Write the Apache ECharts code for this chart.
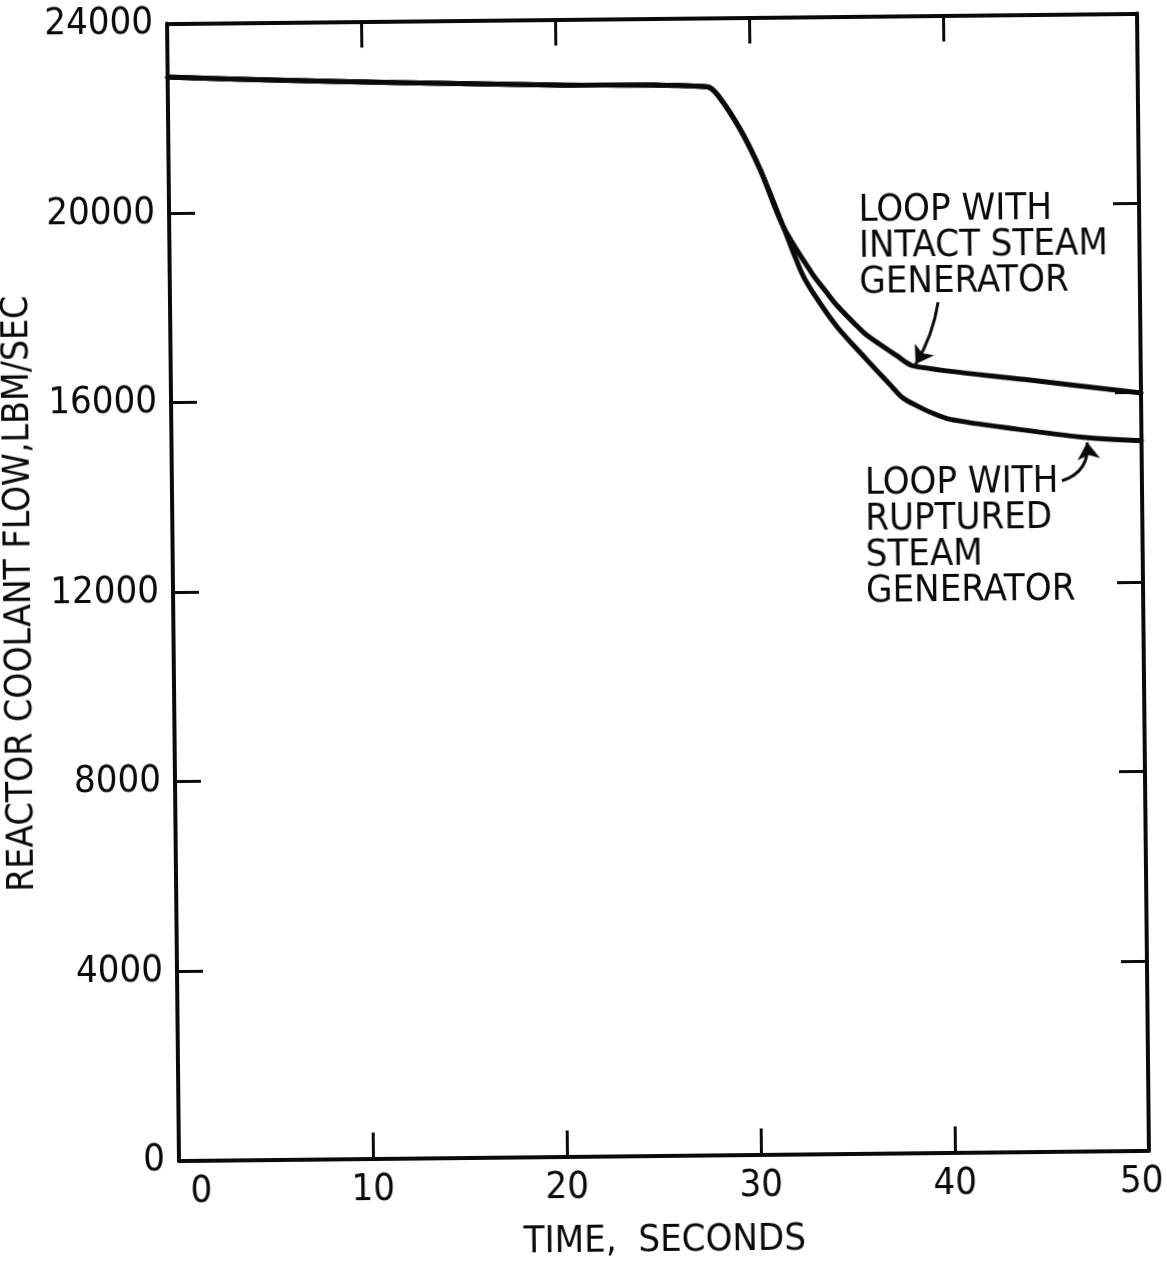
<!DOCTYPE html>
<html>
<head>
<meta charset="utf-8">
<script src="https://cdn.jsdelivr.net/npm/echarts@6/dist/echarts.min.js"></script>
<style>
  html, body { margin: 0; padding: 0; background: #fff; overflow: hidden; }
  /* the plotted sheet sits slightly askew on the page */
  #chart { width: 1167px; height: 1266px; transform: rotate(-0.6deg); transform-origin: 658px 587px; }
</style>
</head>
<body>
<div id="chart"></div>
<script>
// Reactor coolant flow (lbm/sec) versus time (s)
// Common trace before the two loops separate
const sharedTime = [0, 5, 12, 20, 27.8, 28.4, 29.5, 30.5, 31.65];
const sharedFlow = [22870, 22790, 22700, 22620, 22550, 22340, 21630, 20780, 19580];

// Loop with intact steam generator
const intactTime = [33.1, 33.85, 34.36, 35.38, 35.89, 37.43, 38.28, 44, 50];
const intactFlow = [18590, 18180, 17910, 17470, 17270, 16830, 16610, 16300, 15990];

// Loop with ruptured steam generator
const rupturedTime = [32.58, 33.16, 34.35, 35.88, 36.71, 37.2, 37.74, 38.43, 39.12, 40.14, 43.57, 47.0, 50];
const rupturedFlow = [18595, 18171, 17463, 16753, 16380, 16160, 15930, 15770, 15630, 15475, 15253, 15068, 14980];

// Axis ticks
const xTickValues = [0, 10, 20, 30, 40, 50];
const yTickValues = [0, 4000, 8000, 12000, 16000, 20000, 24000];
const yTickLabels = ['0', '4000', '8000', '12000', '16000', '20000', '24000'];

// Callout texts
const intactText = ['LOOP WITH', 'INTACT STEAM', 'GENERATOR'];
const rupturedText = ['LOOP WITH', 'RUPTURED', 'STEAM', 'GENERATOR'];

// Callout placement, in data units [time, flow]
const callouts = {
  intact:   { anchor: [35.54, 20280], arrow: [[39.59, 17948], [38.4, 16650]], curve: 0.1 },
  ruptured: { anchor: [35.72, 14500], arrow: [[45.88, 14154], [47.2, 14960]], curve: -0.4 }
};

const INK = '#0a0a0a';
const NUM_FONT = "'DejaVu Sans Condensed', 'Liberation Sans', sans-serif";
const TXT_FONT = "'DejaVu Sans Condensed', 'DejaVu Sans', sans-serif";

function pairs(ts, vs) { return ts.map((t, i) => [t, vs[i]]); }

const frameLine = { show: true, onZero: false, lineStyle: { color: INK, width: 4 } };
const innerTick = { show: true, inside: true, length: 26, lineStyle: { color: INK, width: 3 } };

const numStyle = { fontFamily: NUM_FONT, fontSize: 38, color: INK };

const chart = echarts.init(document.getElementById('chart'), null, { renderer: 'canvas' });

const option = {
  animation: false,
  backgroundColor: '#fff',
  grid: { left: 173, right: 24, top: 18.5, bottom: 110.5, containLabel: false, outerBoundsMode: 'none' },
  xAxis: [
    {
      type: 'value', position: 'bottom', min: 0, max: 50, interval: 10,
      axisLine: frameLine, axisTick: innerTick, splitLine: { show: false },
      axisLabel: {
        margin: 13,
        formatter: function (v) {
          if (xTickValues.indexOf(v) < 0) return '';
          if (v === 0) return '{first|' + v + '}';
          if (v === 50) return '{last|' + v + '}';
          return '{n|' + v + '}';
        },
        rich: {
          n: Object.assign({}, numStyle),
          first: Object.assign({ padding: [0, 0, 0, 44] }, numStyle),
          last: Object.assign({ padding: [0, 15, 0, 0] }, numStyle)
        }
      },
      name: 'TIME,  SECONDS', nameLocation: 'middle', nameGap: 67,
      nameTextStyle: { fontFamily: TXT_FONT, fontSize: 38, color: INK }
    },
    {
      type: 'value', position: 'top', min: 0, max: 50, interval: 10,
      axisLine: frameLine, axisTick: innerTick, splitLine: { show: false },
      axisLabel: { show: false }
    }
  ],
  yAxis: [
    {
      type: 'value', position: 'left', min: 0, max: 24000, interval: 4000,
      axisLine: frameLine, axisTick: innerTick, splitLine: { show: false },
      axisLabel: {
        margin: 14, padding: [10, 0, 0, 0],
        fontFamily: NUM_FONT, fontSize: 38, color: INK,
        formatter: function (v) {
          const i = yTickValues.indexOf(v);
          return i < 0 ? '' : yTickLabels[i];
        }
      },
      name: 'REACTOR COOLANT FLOW,LBM/SEC', nameLocation: 'middle', nameGap: 116, nameRotate: 90,
      nameTextStyle: { fontFamily: TXT_FONT, fontSize: 37, color: INK }
    },
    {
      type: 'value', position: 'right', min: 0, max: 24000, interval: 4000,
      axisLine: frameLine, axisTick: innerTick, splitLine: { show: false },
      axisLabel: { show: false }
    }
  ],
  series: [
    {
      name: 'Loop with intact steam generator',
      type: 'line', xAxisIndex: 0, yAxisIndex: 0,
      data: pairs(sharedTime.concat(intactTime), sharedFlow.concat(intactFlow)),
      showSymbol: false, smooth: 0.3,
      lineStyle: { color: INK, width: 5, cap: 'round', join: 'round' }
    },
    {
      name: 'Loop with ruptured steam generator',
      type: 'line', xAxisIndex: 0, yAxisIndex: 0,
      data: pairs(sharedTime.concat(rupturedTime), sharedFlow.concat(rupturedFlow)),
      showSymbol: false, smooth: 0.3,
      lineStyle: { color: INK, width: 5, cap: 'round', join: 'round' }
    },
    {
      name: 'callout arrows',
      type: 'lines', coordinateSystem: 'cartesian2d', xAxisIndex: 0, yAxisIndex: 0,
      symbol: ['none', 'arrow'], symbolSize: 17,
      lineStyle: { color: INK, width: 3, opacity: 1 },
      data: [
        { coords: callouts.intact.arrow, lineStyle: { curveness: callouts.intact.curve } },
        { coords: callouts.ruptured.arrow, lineStyle: { curveness: callouts.ruptured.curve } }
      ]
    }
  ]
};

chart.setOption(option);

// Place the multi-line callout texts at their data-space anchors
function calloutText(lines, anchor) {
  const p = chart.convertToPixel({ xAxisIndex: 0, yAxisIndex: 0 }, anchor);
  return {
    type: 'text', x: p[0], y: p[1], silent: true,
    style: {
      text: lines.join('\n'), fill: INK,
      font: '38px ' + TXT_FONT, lineHeight: 36,
      align: 'left', verticalAlign: 'top'
    }
  };
}

chart.setOption({
  graphic: [
    calloutText(intactText, callouts.intact.anchor),
    calloutText(rupturedText, callouts.ruptured.anchor)
  ]
});
</script>
</body>
</html>
